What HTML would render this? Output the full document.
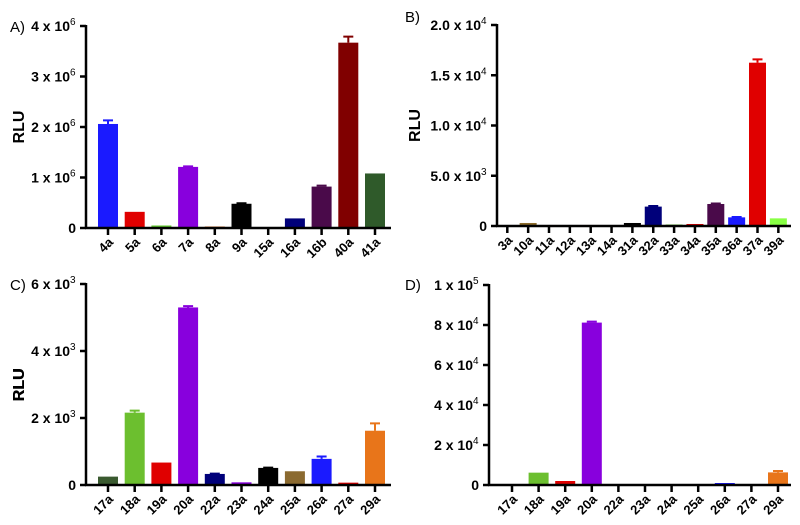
<!DOCTYPE html>
<html><head><meta charset="utf-8"><style>
html,body{margin:0;padding:0;background:#fff;}
svg{display:block;font-family:"Liberation Sans",Arial,sans-serif;}
</style></head><body>
<svg id="c" width="800" height="525" viewBox="0 0 800 525"></svg>
<script>
const catsA=["4a","5a","6a","7a","8a","9a","15a","16a","16b","40a","41a"];
const valsA=[2.06e6,0.32e6,0.05e6,1.21e6,0.03e6,0.48e6,0.01e6,0.19e6,0.82e6,3.67e6,1.08e6];
const errA=[0.07e6,0,0,0.01e6,0,0.01e6,0,0,0.02e6,0.12e6,0];
const colA=["#1a1aff","#e00000","#66cc33","#8800dd","#e07020","#000000","#333333","#00007a","#4a0a4a","#800000","#2f5a2a"];
const ticksA=[0,1e6,2e6,3e6,4e6];
const tickLabA=[["0",""],["1 x 10","6"],["2 x 10","6"],["3 x 10","6"],["4 x 10","6"]];

const catsB=["3a","10a","11a","12a","13a","14a","31a","32a","33a","34a","35a","36a","37a","39a"];
const valsB=[50,300,100,100,100,50,300,1930,150,200,2190,860,16250,760];
const errB=[0,0,0,0,0,0,0,60,0,0,50,40,330,0];
const colB=["#1a1aff","#8b6a2a","#e07020","#2f5a2a","#e07020","#8800dd","#000000","#00007a","#66cc33","#e00000","#4a0a4a","#1a1aff","#e00000","#88ff44"];
const ticksB=[0,5e3,1e4,1.5e4,2e4];
const tickLabB=[["0",""],["5.0 x 10","3"],["1.0 x 10","4"],["1.5 x 10","4"],["2.0 x 10","4"]];

const catsC=["17a","18a","19a","20a","22a","23a","24a","25a","26a","27a","29a"];
const valsC=[250,2160,670,5300,330,80,510,410,780,70,1620];
const errC=[0,60,0,40,10,0,10,0,70,0,220];
const colC=["#3a5a30","#6cbf2f","#e00000","#8800dd","#00007a","#8800dd","#000000","#8b6a30","#1a1aff","#e00000","#e8751a"];
const ticksC=[0,2e3,4e3,6e3];
const tickLabC=[["0",""],["2 x 10","3"],["4 x 10","3"],["6 x 10","3"]];

const catsD=["17a","18a","19a","20a","22a","23a","24a","25a","26a","27a","29a"];
const valsD=[300,6170,2000,81200,500,100,400,100,1000,100,6300];
const errD=[0,0,0,500,0,0,0,0,0,0,700];
const colD=colC;
const ticksD=[0,2e4,4e4,6e4,8e4,1e5];
const tickLabD=[["0",""],["2 x 10","4"],["4 x 10","4"],["6 x 10","4"],["8 x 10","4"],["1 x 10","5"]];

const svg=document.getElementById('c');
const NS="http://www.w3.org/2000/svg";
function mk(t,a,p){const e=document.createElementNS(NS,t);for(const k in a)e.setAttribute(k,a[k]);(p||svg).appendChild(e);return e;}

function panel(o){
  const g=mk('g',{});
  
  
  const y=v=>o.y0-(v/o.max)*(o.y0-o.yTop);
  const x=i=>o.c0+i*o.step;
  const lt=mk('text',{x:o.lx,y:o.ly,'font-size':15},g);lt.textContent=o.id.toUpperCase()+")";
  
  
  o.vals.forEach((v,i)=>{
    const b=mk('rect',{x:x(i)-o.bw/2,y:y(v),width:o.bw,height:o.y0-y(v),fill:o.col[i]},g);
    
    
    if(o.err[i]>0){
      const ey=y(v+o.err[i]);
      const e=mk('path',{d:`M${x(i)} ${y(v)}V${ey}M${x(i)-5} ${ey}H${x(i)+5}`,stroke:o.col[i],'stroke-width':2,fill:'none'},g);
      
      
    }
  });
  const ya=mk('path',{d:`M${o.ax} ${o.yTop-1}V${o.y0}`,stroke:'#000','stroke-width':2.5,fill:'none'},g);
  
  
  const xa=mk('path',{d:`M${o.ax-1} ${o.y0}H${o.axEnd}`,stroke:'#000','stroke-width':2.5,fill:'none'},g);
  
  
  o.ticks.forEach((t,i)=>{
    const ty=y(t);
    mk('path',{d:`M${o.ax-6} ${ty}H${o.ax}`,stroke:'#000','stroke-width':2.5},g);
    const l=o.tl[i];
    const tx=mk('text',{x:l[1]?o.ax-16:o.ax-10,y:ty+5,'text-anchor':'end','font-size':14,'font-weight':'bold'},g);
    
    
    tx.textContent=l[0];
    if(l[1]){
      const s=mk('text',{x:o.ax-16,y:ty-1,'font-size':10,'font-weight':'normal'},g);
      s.textContent=l[1];
      
      
    }
  });
  o.cats.forEach((c,i)=>{
    mk('path',{d:`M${x(i)} ${o.y0}V${o.y0+7}`,stroke:'#000','stroke-width':2.5},g);
    const ax=x(i)+6, ay=o.y0+15;
    const t=mk('text',{x:ax,y:ay,'text-anchor':'end','font-size':13,'font-weight':'bold',transform:`rotate(-45 ${ax} ${ay})`},g);
    t.textContent=c;
    
    
  });
  const r=mk('text',{x:0,y:0,'font-size':16,'font-weight':'bold','text-anchor':'middle',transform:`translate(${o.rx} ${(o.yTop+o.y0)/2}) rotate(-90)`},g);
  r.textContent='RLU';
  
  
}
panel({id:'a',cats:catsA,vals:valsA,err:errA,col:colA,ticks:ticksA,tl:tickLabA,max:4e6,ax:86,axEnd:391,yTop:26,y0:228,c0:108,step:26.7,bw:20,lx:10,ly:32,rx:24});
panel({id:'b',cats:catsB,vals:valsB,err:errB,col:colB,ticks:ticksB,tl:tickLabB,max:2e4,ax:497,axEnd:791,yTop:25,y0:226,c0:507.3,step:20.85,bw:17,lx:405,ly:22,rx:420});
panel({id:'c',cats:catsC,vals:valsC,err:errC,col:colC,ticks:ticksC,tl:tickLabC,max:6e3,ax:86,axEnd:391,yTop:284,y0:485,c0:108,step:26.7,bw:20,lx:10,ly:290,rx:24});
panel({id:'d',cats:catsD,vals:valsD,err:errD,col:colD,ticks:ticksD,tl:tickLabD,max:1e5,ax:489,axEnd:791,yTop:285,y0:485,c0:512,step:26.6,bw:20,lx:405,ly:290,rx:24});
</script>
</body></html>
